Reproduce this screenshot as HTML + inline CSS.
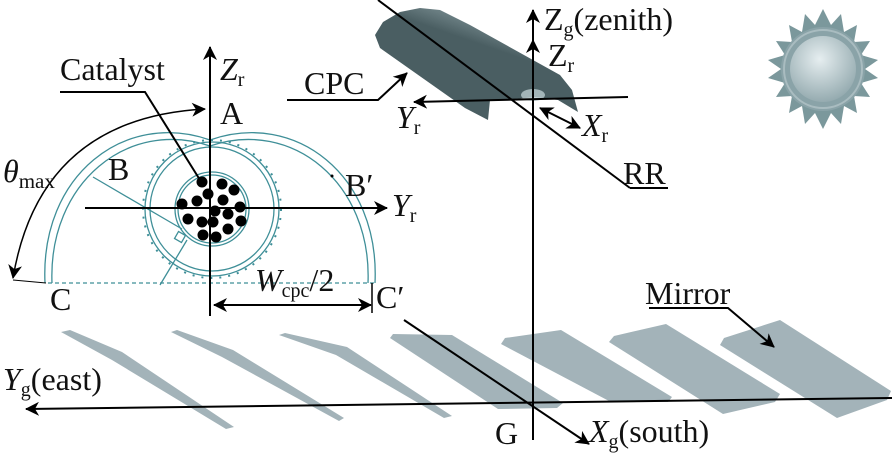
<!DOCTYPE html>
<html><head><meta charset="utf-8"><style>
html,body{margin:0;padding:0;background:#fff}
svg{display:block}
text{font-family:"Liberation Serif",serif;fill:#111}
</style></head><body>
<svg width="892" height="461" viewBox="0 0 892 461" xmlns="http://www.w3.org/2000/svg">
<defs>
<marker id="ar2" markerWidth="14" markerHeight="14" refX="13" refY="7" orient="auto" markerUnits="userSpaceOnUse">
<path d="M0,0 L14,7 L0,14 L4,7 Z" fill="#000"/></marker>
<marker id="ars" markerWidth="14" markerHeight="14" refX="1" refY="7" orient="auto" markerUnits="userSpaceOnUse">
<path d="M14,0 L0,7 L14,14 L10,7 Z" fill="#000"/></marker>
<linearGradient id="cg" x1="0" y1="0" x2="0.5" y2="-0.8">
<stop offset="0" stop-color="#4a5e62"/><stop offset="0.3" stop-color="#8a9ea2"/><stop offset="0.55" stop-color="#253236"/><stop offset="0.8" stop-color="#5e7276"/><stop offset="1" stop-color="#2c3a3e"/></linearGradient>
<radialGradient id="sg" cx="0.45" cy="0.35" r="0.7"><stop offset="0" stop-color="#e6eef0"/><stop offset="1" stop-color="#8fa6ab"/></radialGradient>
</defs>

<!-- mirrors -->
<g fill="#a3b3b9">
<polygon points="61,332 70,330 122,352 234,427 226,429 112,360"/>
<polygon points="171,332 177,330 233,350 344,418 339,421 222,357"/>
<polygon points="279,335 285,333 347,347 452,416 444,418 336,355"/>
<polygon points="390,338 393,334 452,335 563,403 557,408 498,409"/>
<polygon points="501,344 505,338 561,330 672,397 668,402 609,401"/>
<polygon points="609,342 614,336 666,324 780,394 775,402 723,414"/>
<polygon points="720,345 724,338 780,320 891,391 887,400 837,418"/>
</g>

<!-- sun -->
<g transform="translate(823,69)">
<polygon fill="#7b989c" points="0,-60 8,-44 18,-55 21,-37 34,-44 31,-27 47,-28 38,-14 55,-9 42,0 55,9 38,14 47,28 31,27 34,44 21,37 18,55 8,44 0,60 -8,44 -18,55 -21,37 -34,44 -31,27 -47,28 -38,14 -55,9 -42,0 -55,-9 -38,-14 -47,-28 -31,-27 -34,-44 -21,-37 -18,-55 -8,-44"/>
<circle r="42" fill="#8aa3a8"/>
<circle r="39" fill="none" stroke="#a9bcc0" stroke-width="2"/>
<circle r="33" fill="url(#sg)"/>
</g>

<!-- CPC cylinder -->
<polygon fill="url(#cg)" points="375,35 383,22 400,12 420,8 440,10 470,25 560,75 572,90 578,112 558,100 535,97 505,100 490,100 488,120 465,108 380,48"/>
<ellipse cx="533" cy="95" rx="12" ry="6" fill="#b9cbce" opacity="0.8"/>

<!-- right axes -->
<line x1="378" y1="0" x2="630" y2="188" stroke="#000" stroke-width="2"/>
<line x1="630" y1="188" x2="668" y2="188" stroke="#000" stroke-width="2"/>
<line x1="628" y1="97" x2="414" y2="102" stroke="#000" stroke-width="2" marker-end="url(#ar2)"/>
<line x1="533" y1="440" x2="533" y2="10" stroke="#000" stroke-width="2" marker-end="url(#ar2)"/>
<line x1="533" y1="60" x2="533" y2="40" stroke="#000" stroke-width="2" marker-end="url(#ar2)"/>
<line x1="540" y1="108" x2="580" y2="128" stroke="#000" stroke-width="2" marker-start="url(#ars)" marker-end="url(#ar2)"/>
<polyline points="287,100 378,100 407,73" fill="none" stroke="#000" stroke-width="2" marker-end="url(#ar2)"/>

<!-- ground axes -->
<line x1="892" y1="398" x2="26" y2="409" stroke="#000" stroke-width="2" marker-end="url(#ar2)"/>
<line x1="404" y1="320" x2="589" y2="444" stroke="#000" stroke-width="2" marker-end="url(#ar2)"/>
<polyline points="649,308 728,308 774,347" fill="none" stroke="#000" stroke-width="2" marker-end="url(#ar2)"/>

<!-- left CPC cross-section -->
<g fill="none" stroke="#3f8f98" stroke-width="1.3">
<path d="M45,283 C40,175 125,110 210,140"/>
<path d="M52,283 C48,183 128,118 210,146"/>
<path d="M375,283 C380,175 295,110 210,140"/>
<path d="M368,283 C372,183 292,118 210,146"/>
<circle cx="212" cy="209" r="67"/>
<circle cx="212" cy="209" r="62"/>
<circle cx="212" cy="209" r="69" stroke-dasharray="2,7" stroke-width="2"/>
<circle cx="212" cy="209" r="37"/>
<circle cx="212" cy="209" r="34"/>
<line x1="93" y1="177" x2="182" y2="229"/>
<line x1="160" y1="285" x2="187" y2="240"/>
<rect x="176" y="233" width="8" height="8" transform="rotate(30 180 237)"/>
<line x1="48" y1="283" x2="375" y2="283" stroke-dasharray="4,3"/>
</g>
<g fill="#000">
<circle cx="202" cy="182" r="5.5"/><circle cx="222" cy="184" r="5.5"/><circle cx="234" cy="190" r="5.5"/>
<circle cx="208" cy="194" r="5.5"/><circle cx="197" cy="201" r="5.5"/><circle cx="223" cy="200" r="5.5"/>
<circle cx="182" cy="204" r="5.5"/><circle cx="240" cy="207" r="5.5"/><circle cx="215" cy="211" r="5.5"/>
<circle cx="228" cy="214" r="5.5"/><circle cx="188" cy="219" r="5.5"/><circle cx="202" cy="222" r="5.5"/>
<circle cx="213" cy="222" r="5.5"/><circle cx="241" cy="221" r="5.5"/><circle cx="228" cy="229" r="5.5"/>
<circle cx="203" cy="235" r="5.5"/><circle cx="216" cy="237" r="5.5"/>
<circle cx="332" cy="176" r="1.5"/>
</g>
<line x1="210" y1="316" x2="210" y2="47" stroke="#000" stroke-width="2" marker-end="url(#ar2)"/>
<line x1="85" y1="208" x2="387" y2="208" stroke="#000" stroke-width="2" marker-end="url(#ar2)"/>
<line x1="214" y1="305" x2="371" y2="305" stroke="#000" stroke-width="2" marker-start="url(#ars)" marker-end="url(#ar2)"/>
<line x1="372" y1="283" x2="372" y2="313" stroke="#000" stroke-width="1.5"/>
<path d="M13,278 Q40,118 205,109" fill="none" stroke="#000" stroke-width="1.5" marker-start="url(#ars)" marker-end="url(#ar2)"/>
<line x1="13" y1="280" x2="46" y2="283" stroke="#000" stroke-width="1"/>
<polyline points="60,92 145,92 200,180" fill="none" stroke="#000" stroke-width="2"/>

<!-- labels -->
<g font-size="32">
<text x="60" y="80">Catalyst</text>
<text x="220" y="80"><tspan font-style="italic">Z</tspan><tspan font-size="20" dy="6">r</tspan></text>
<text x="220" y="124">A</text>
<text x="108" y="180">B</text>
<text x="345" y="196">B′</text>
<text x="392" y="216"><tspan font-style="italic">Y</tspan><tspan font-size="20" dy="6">r</tspan></text>
<text x="3" y="182"><tspan font-style="italic">θ</tspan><tspan font-size="21" dy="6">max</tspan></text>
<text x="50" y="310">C</text>
<text x="376" y="308">C′</text>
<text x="255" y="291"><tspan font-style="italic">W</tspan><tspan font-size="20" dy="6">cpc</tspan><tspan dy="-6">/2</tspan></text>
<text x="304" y="94">CPC</text>
<text x="396" y="128"><tspan font-style="italic">Y</tspan><tspan font-size="20" dy="6">r</tspan></text>
<text x="582" y="136"><tspan font-style="italic">X</tspan><tspan font-size="20" dy="6">r</tspan></text>
<text x="623" y="184">RR</text>
<text x="544" y="30">Z<tspan font-size="20" dy="6">g</tspan><tspan dy="-6">(zenith)</tspan></text>
<text x="548" y="66">Z<tspan font-size="20" dy="6">r</tspan></text>
<text x="645" y="304">Mirror</text>
<text x="3" y="390"><tspan font-style="italic">Y</tspan><tspan font-size="20" dy="6">g</tspan><tspan dy="-6">(east)</tspan></text>
<text x="495" y="444">G</text>
<text x="589" y="442"><tspan font-style="italic">X</tspan><tspan font-size="20" dy="6">g</tspan><tspan dy="-6">(south)</tspan></text>
</g>
</svg>
</body></html>
